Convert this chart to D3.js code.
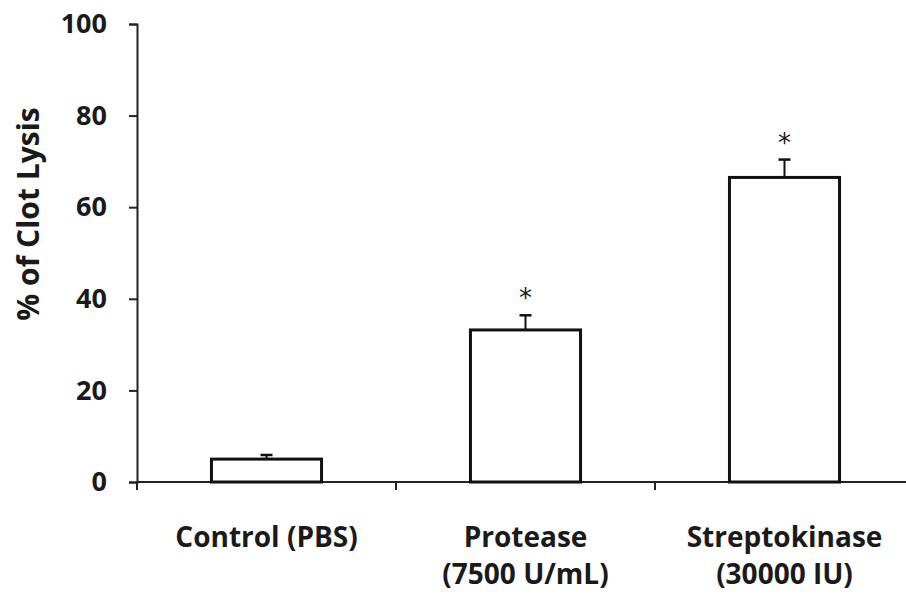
<!DOCTYPE html>
<html>
<head>
<meta charset="UTF-8">
<script src="https://d3js.org/d3.v7.min.js"></script>
<style>
  body { margin: 0; background: #fff; }
  text { font-family: "Open Sans", sans-serif; font-weight: bold; fill: #1a1a1a; }
</style>
</head>
<body>
<div id="chart"></div>
<script>
// data
var groups = ["Control (PBS)", "Protease (7500 U/mL)", "Streptokinase (30000 IU)"];
var labelLines = [["Control (PBS)"], ["Protease", "(7500 U/mL)"], ["Streptokinase", "(30000 IU)"]];
var lysis = [5.0, 33.2, 66.5];
var sem = [0.9, 3.2, 3.9];
var stars = ["", "*", "*"];
var yTicks = [0, 20, 40, 60, 80, 100];

var W = 906, H = 594;
var margin = {top: 24, right: 0, bottom: 112, left: 137};
var width = W - margin.left - margin.right,
    height = H - margin.top - margin.bottom;

var svg = d3.select("#chart").append("svg")
    .attr("width", W)
    .attr("height", H)
  .append("g")
    .attr("transform", "translate(" + margin.left + "," + margin.top + ")");

var x = d3.scaleBand()
  .domain(groups)
  .range([0, 259 * 3])
  .paddingInner(0.575)
  .paddingOuter(0.2875);

var y = d3.scaleLinear()
  .domain([0, 100])
  .range([height, 0]);

// y axis
var yAxis = svg.append("g")
  .call(d3.axisLeft(y).tickValues(yTicks).tickSize(8).tickPadding(22));
yAxis.select(".domain").attr("stroke", "#222").attr("stroke-width", 2);
yAxis.selectAll(".tick line").attr("stroke", "#222").attr("stroke-width", 2);
yAxis.selectAll(".tick text").style("font-size", "27px").attr("fill", "#1f2a30");

// x axis: line across, ticks between groups
var xAxis = svg.append("g").attr("transform", "translate(0," + height + ")");
xAxis.append("line")
  .attr("x1", 0).attr("x2", width)
  .attr("stroke", "#222").attr("stroke-width", 2);
xAxis.selectAll(".sep")
  .data(groups.slice(1))
  .enter().append("line")
  .attr("class", "sep")
  .attr("x1", function(d) { return x(d) - x.step() * x.paddingInner() / 2; })
  .attr("x2", function(d) { return x(d) - x.step() * x.paddingInner() / 2; })
  .attr("y1", 0).attr("y2", 8)
  .attr("stroke", "#222").attr("stroke-width", 2);
xAxis.append("line")
  .attr("x1", 0).attr("x2", 0).attr("y1", 0).attr("y2", 8)
  .attr("stroke", "#222").attr("stroke-width", 2);

// error bars
var err = svg.selectAll(".err")
  .data(groups)
  .enter().append("g").attr("class", "err");
err.append("line")
  .attr("x1", function(d) { return x(d) + x.bandwidth() / 2; })
  .attr("x2", function(d) { return x(d) + x.bandwidth() / 2; })
  .attr("y1", function(d, i) { return y(lysis[i]); })
  .attr("y2", function(d, i) { return y(lysis[i] + sem[i]); })
  .attr("stroke", "#111").attr("stroke-width", 2);
err.append("line")
  .attr("x1", function(d) { return x(d) + x.bandwidth() / 2 - 6; })
  .attr("x2", function(d) { return x(d) + x.bandwidth() / 2 + 6; })
  .attr("y1", function(d, i) { return y(lysis[i] + sem[i]); })
  .attr("y2", function(d, i) { return y(lysis[i] + sem[i]); })
  .attr("stroke", "#111").attr("stroke-width", 2.5);

// bars
svg.selectAll("rect")
  .data(groups)
  .enter().append("rect")
  .attr("x", function(d) { return x(d); })
  .attr("y", function(d, i) { return y(lysis[i]); })
  .attr("width", x.bandwidth())
  .attr("height", function(d, i) { return height - y(lysis[i]); })
  .attr("fill", "#fff")
  .attr("stroke", "#111")
  .attr("stroke-width", 3);

// significance stars
svg.selectAll(".star")
  .data(groups)
  .enter().append("text")
  .attr("class", "star")
  .attr("x", function(d) { return x(d) + x.bandwidth() / 2; })
  .attr("y", function(d, i) { return y(lysis[i] + sem[i]) - 8; })
  .attr("text-anchor", "middle")
  .style("font-family", "'DejaVu Sans', sans-serif")
  .style("font-weight", "normal")
  .style("font-size", "26px")
  .text(function(d, i) { return stars[i]; });

// category labels
var cat = svg.selectAll(".cat")
  .data(groups)
  .enter().append("text")
  .attr("class", "cat")
  .attr("x", function(d) { return x(d) + x.bandwidth() / 2; })
  .attr("y", height + 65)
  .attr("text-anchor", "middle")
  .style("font-size", "28px");
cat.selectAll("tspan")
  .data(function(d, i) { return labelLines[i]; })
  .enter().append("tspan")
  .attr("x", function() { return d3.select(this.parentNode).attr("x"); })
  .attr("dy", function(d, j) { return j === 0 ? 0 : 37; })
  .text(function(d) { return d; });

// y title
svg.append("text")
  .attr("transform", "translate(" + (-98) + "," + (190) + ") rotate(-90)")
  .attr("text-anchor", "middle")
  .style("font-size", "30px")
  .text("% of Clot Lysis");
</script>
</body>
</html>
